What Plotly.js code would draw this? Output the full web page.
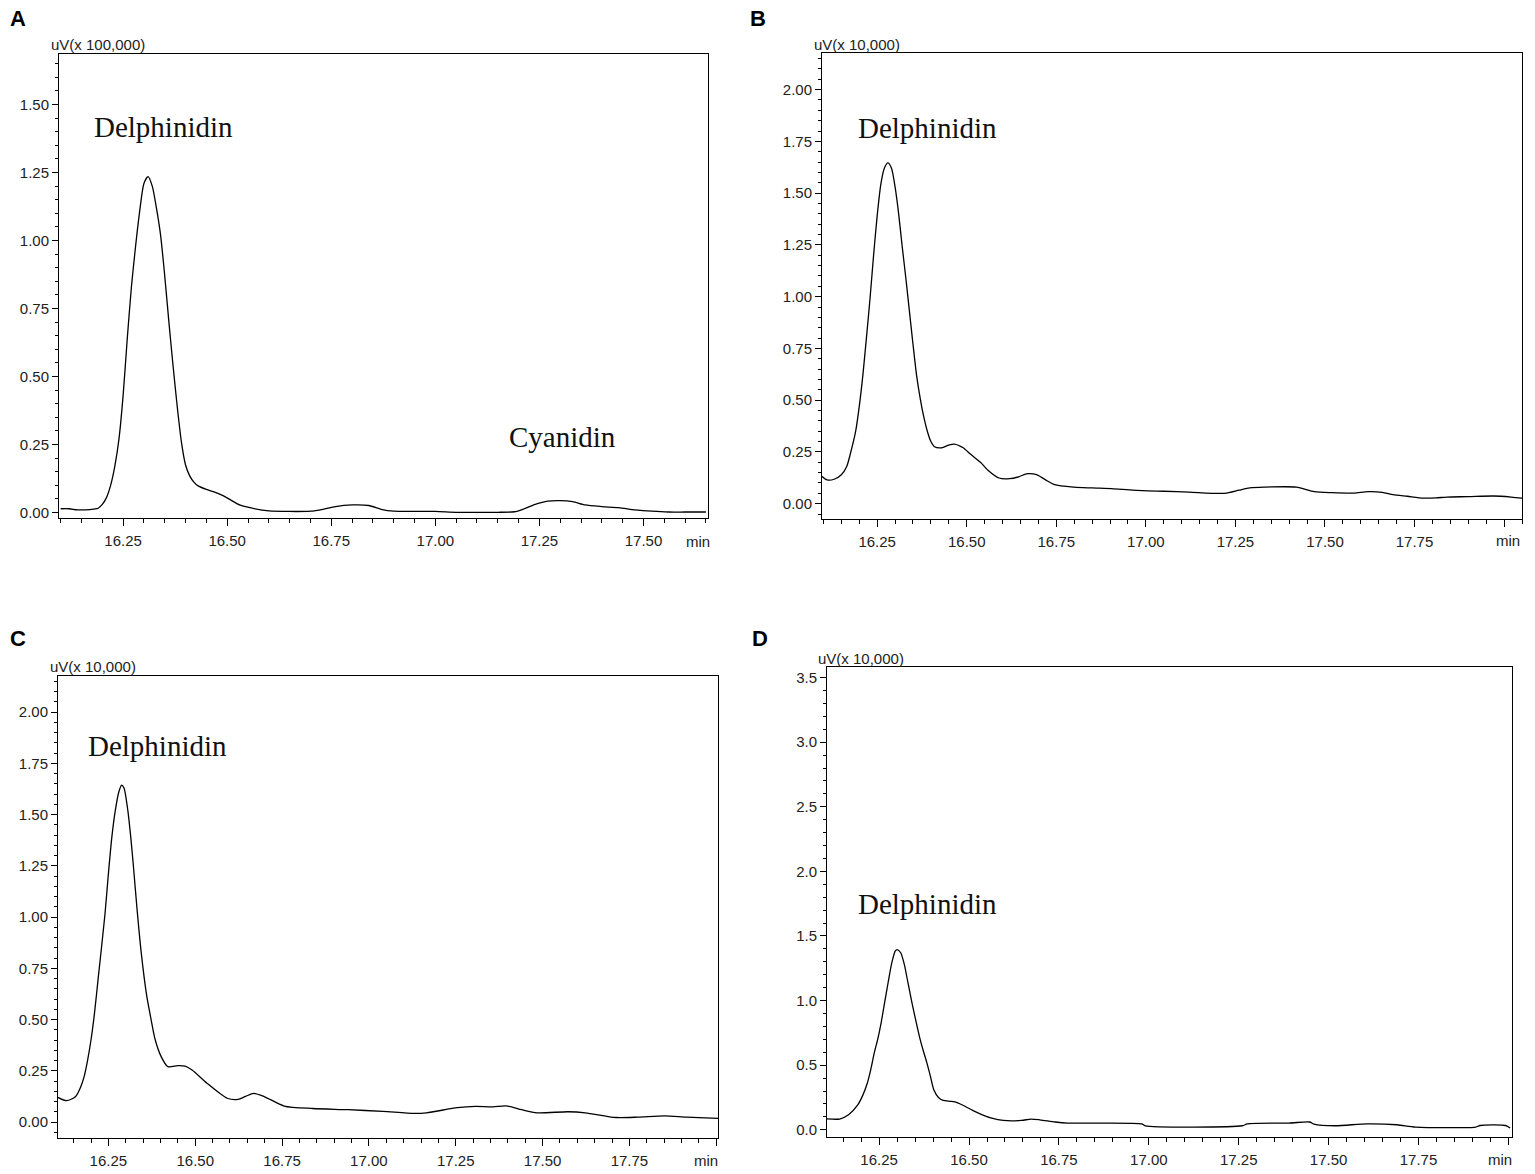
<!DOCTYPE html>
<html>
<head>
<meta charset="utf-8">
<script src="https://cdn.plot.ly/plotly-3.0.1.min.js"></script>
<style>
  html, body { margin: 0; padding: 0; background: #fff; }
  #chart { width: 1535px; height: 1174px; }
</style>
</head>
<body>
<div id="chart"></div>
<script>
// ─── chromatogram traces (time in min, signal in axis units) ───
const tA = [16.10, 16.12, 16.14, 16.16, 16.18, 16.19, 16.20, 16.21, 16.22, 16.23, 16.24, 16.25, 16.26, 16.27, 16.28, 16.29, 16.30, 16.31, 16.32, 16.33, 16.34, 16.35, 16.36, 16.37, 16.38, 16.39, 16.40, 16.41, 16.42, 16.43, 16.45, 16.47, 16.49, 16.51, 16.53, 16.56, 16.60, 16.65, 16.70, 16.73, 16.76, 16.80, 16.84, 16.87, 16.90, 16.95, 17.00, 17.05, 17.10, 17.15, 17.19, 17.21, 17.24, 17.27, 17.30, 17.33, 17.36, 17.40, 17.44, 17.48, 17.52, 17.56, 17.60, 17.65];
const vA = [0.014, 0.014, 0.010, 0.010, 0.013, 0.016, 0.030, 0.055, 0.10, 0.17, 0.27, 0.43, 0.64, 0.83, 0.98, 1.11, 1.21, 1.235, 1.20, 1.12, 1.02, 0.87, 0.70, 0.54, 0.39, 0.26, 0.175, 0.135, 0.112, 0.098, 0.085, 0.075, 0.062, 0.045, 0.028, 0.016, 0.006, 0.004, 0.005, 0.012, 0.022, 0.028, 0.026, 0.012, 0.005, 0.004, 0.004, 0.001, 0.001, 0.001, 0.003, 0.012, 0.030, 0.042, 0.044, 0.040, 0.028, 0.022, 0.018, 0.010, 0.005, 0.002, 0.002, 0.002];

const tB = [16.095, 16.11, 16.13, 16.15, 16.165, 16.175, 16.19, 16.20, 16.21, 16.22, 16.23, 16.24, 16.25, 16.26, 16.27, 16.28, 16.29, 16.30, 16.31, 16.32, 16.33, 16.34, 16.35, 16.36, 16.37, 16.38, 16.39, 16.40, 16.41, 16.43, 16.45, 16.465, 16.49, 16.51, 16.54, 16.56, 16.59, 16.62, 16.645, 16.67, 16.695, 16.72, 16.745, 16.80, 16.85, 16.91, 16.99, 17.05, 17.12, 17.22, 17.26, 17.29, 17.33, 17.42, 17.47, 17.52, 17.58, 17.62, 17.66, 17.69, 17.73, 17.775, 17.81, 17.84, 17.90, 17.97, 18.02, 18.05];
const vB = [0.132, 0.115, 0.118, 0.14, 0.18, 0.24, 0.35, 0.47, 0.62, 0.80, 0.99, 1.20, 1.39, 1.54, 1.62, 1.646, 1.62, 1.53, 1.40, 1.24, 1.09, 0.93, 0.77, 0.62, 0.51, 0.42, 0.35, 0.30, 0.275, 0.27, 0.283, 0.288, 0.27, 0.24, 0.197, 0.16, 0.124, 0.121, 0.13, 0.145, 0.14, 0.115, 0.092, 0.08, 0.076, 0.072, 0.063, 0.06, 0.056, 0.05, 0.065, 0.076, 0.08, 0.08, 0.058, 0.053, 0.051, 0.058, 0.055, 0.044, 0.036, 0.027, 0.028, 0.032, 0.034, 0.037, 0.032, 0.027];

const tC = [16.105, 16.13, 16.155, 16.17, 16.18, 16.19, 16.20, 16.21, 16.22, 16.24, 16.25, 16.26, 16.27, 16.28, 16.288, 16.295, 16.306, 16.315, 16.322, 16.333, 16.345, 16.36, 16.373, 16.385, 16.402, 16.421, 16.45, 16.471, 16.491, 16.534, 16.592, 16.623, 16.645, 16.668, 16.70, 16.756, 16.838, 16.94, 17.04, 17.13, 17.166, 17.255, 17.307, 17.357, 17.395, 17.44, 17.484, 17.573, 17.623, 17.711, 17.775, 17.851, 17.914, 18.005];
const vC = [0.12, 0.104, 0.123, 0.17, 0.22, 0.30, 0.40, 0.53, 0.69, 1.01, 1.21, 1.39, 1.52, 1.61, 1.644, 1.63, 1.52, 1.38, 1.25, 1.03, 0.82, 0.62, 0.50, 0.40, 0.319, 0.27, 0.275, 0.273, 0.254, 0.189, 0.116, 0.11, 0.125, 0.14, 0.123, 0.078, 0.066, 0.06, 0.052, 0.042, 0.045, 0.07, 0.076, 0.074, 0.079, 0.06, 0.045, 0.05, 0.045, 0.022, 0.024, 0.03, 0.024, 0.018];

const tD = [16.105, 16.14, 16.165, 16.19, 16.205, 16.217, 16.227, 16.236, 16.246, 16.255, 16.265, 16.275, 16.285, 16.295, 16.30, 16.31, 16.32, 16.33, 16.34, 16.35, 16.364, 16.374, 16.383, 16.393, 16.402, 16.415, 16.428, 16.45, 16.467, 16.49, 16.51, 16.537, 16.563, 16.595, 16.646, 16.672, 16.697, 16.74, 16.774, 16.98, 16.99, 17.26, 17.274, 17.39, 17.447, 17.459, 17.518, 17.607, 17.69, 17.742, 17.909, 17.921, 17.992, 18.005];
const vD = [0.085, 0.083, 0.116, 0.19, 0.27, 0.36, 0.47, 0.59, 0.70, 0.82, 0.98, 1.14, 1.29, 1.385, 1.395, 1.37, 1.28, 1.14, 1.00, 0.87, 0.70, 0.60, 0.516, 0.41, 0.31, 0.25, 0.227, 0.22, 0.211, 0.18, 0.15, 0.116, 0.09, 0.072, 0.072, 0.083, 0.077, 0.06, 0.052, 0.046, 0.031, 0.031, 0.046, 0.052, 0.06, 0.044, 0.031, 0.046, 0.039, 0.021, 0.021, 0.033, 0.033, 0.013];

// tick values / labels (the last tick of B-D carries the "min" unit instead of a number)
const xTicksA = [16.25, 16.50, 16.75, 17.00, 17.25, 17.50];
const xLabelsA = ['16.25', '16.50', '16.75', '17.00', '17.25', '17.50'];
const xTicksBCD = [16.25, 16.50, 16.75, 17.00, 17.25, 17.50, 17.75, 18.00];
const xLabelsBCD = ['16.25', '16.50', '16.75', '17.00', '17.25', '17.50', '17.75', ''];
const yTicksABC = [0, 0.25, 0.50, 0.75, 1.00, 1.25, 1.50, 1.75, 2.00];
const yTicksD = [0, 0.5, 1.0, 1.5, 2.0, 2.5, 3.0, 3.5];

const panelLetters = ['A', 'B', 'C', 'D'];
const unitLabels = ['uV(x 100,000)', 'uV(x 10,000)', 'uV(x 10,000)', 'uV(x 10,000)'];
const timeUnit = 'min';

// ─── layout helpers ───
const W = 1535, H = 1174;
const px = x => x / W;
const py = y => 1 - y / H;

const tickFont = { family: 'Liberation Sans, Arial, sans-serif', size: 15, color: '#222' };

function xAxis(dom, range, vals, text, anchor) {
  return {
    domain: [px(dom[0]), px(dom[1])], range, anchor,
    showline: true, linecolor: '#000', linewidth: 1, mirror: true,
    showgrid: false, zeroline: false,
    tickmode: 'array', tickvals: vals, ticktext: text,
    ticks: 'outside', ticklen: 7, tickcolor: '#000', tickwidth: 1,
    ticklabelstandoff: 2,
    minor: { dtick: 0.05, tick0: 16.1, ticks: 'outside', ticklen: 4, tickcolor: '#000', showgrid: false },
    tickfont: tickFont, fixedrange: true
  };
}

function yAxis(dom, range, vals, fmt, minorStep, anchor) {
  return {
    domain: [py(dom[1]), py(dom[0])], range, anchor,
    showline: true, linecolor: '#000', linewidth: 1, mirror: true,
    showgrid: false, zeroline: false,
    tickmode: 'array', tickvals: vals, tickformat: fmt,
    ticks: 'outside', ticklen: 6, tickcolor: '#000', tickwidth: 1,
    minor: { dtick: minorStep, tick0: 0, ticks: 'outside', ticklen: 3, tickcolor: '#000', showgrid: false },
    tickfont: tickFont, fixedrange: true
  };
}

function trace(x, y, xa, ya) {
  return { type: 'scatter', mode: 'lines', x, y, xaxis: xa, yaxis: ya,
    line: { color: '#000', width: 1.3, shape: 'spline', smoothing: 0.7 },
    hoverinfo: 'skip', showlegend: false };
}

const data = [
  trace(tA, vA, 'x', 'y'),
  trace(tB, vB, 'x2', 'y2'),
  trace(tC, vC, 'x3', 'y3'),
  trace(tD, vD, 'x4', 'y4')
];

function txt(x, y, text, font, opts = {}) {
  return Object.assign({
    xref: 'paper', yref: 'paper', x: px(x), y: py(y), text, showarrow: false,
    xanchor: 'left', yanchor: 'middle', font
  }, opts);
}
const bold = { family: 'Liberation Sans, Arial, sans-serif', size: 22, color: '#000' };
const serif = { family: 'Liberation Serif, Times New Roman, serif', size: 29, color: '#111' };
const centred = { xanchor: 'center' };

const annotations = [
  txt(8, 18, '<b>' + panelLetters[0] + '</b>', bold),
  txt(748, 18, '<b>' + panelLetters[1] + '</b>', bold),
  txt(8, 638, '<b>' + panelLetters[2] + '</b>', bold),
  txt(750, 638, '<b>' + panelLetters[3] + '</b>', bold),
  txt(49, 45, unitLabels[0], tickFont),
  txt(812, 45, unitLabels[1], tickFont),
  txt(48, 666, unitLabels[2], tickFont),
  txt(816, 658, unitLabels[3], tickFont),
  txt(92, 127, 'Delphinidin', serif),
  txt(507, 437, 'Cyanidin', serif),
  txt(856, 128, 'Delphinidin', serif),
  txt(86, 746, 'Delphinidin', serif),
  txt(856, 904, 'Delphinidin', serif),
  txt(698, 541, timeUnit, tickFont, centred),
  txt(1508, 540, timeUnit, tickFont, centred),
  txt(706, 1160, timeUnit, tickFont, centred),
  txt(1500, 1159, timeUnit, tickFont, centred)
];

const layout = {
  width: W, height: H,
  margin: { l: 0, r: 0, t: 0, b: 0 },
  paper_bgcolor: '#fff', plot_bgcolor: '#fff',
  showlegend: false,
  xaxis: xAxis([59, 708], [16.096, 17.655], xTicksA, xLabelsA, 'y'),
  yaxis: yAxis([54, 518], [-0.02, 1.686], yTicksABC.slice(0, 7), '.2f', 0.05, 'x'),
  xaxis2: xAxis([822, 1522], [16.096, 18.05], xTicksBCD, xLabelsBCD, 'y2'),
  yaxis2: yAxis([53, 519], [-0.074, 2.177], yTicksABC, '.2f', 0.05, 'x2'),
  xaxis3: xAxis([58, 718], [16.105, 18.005], xTicksBCD, xLabelsBCD, 'y3'),
  yaxis3: yAxis([676, 1138], [-0.078, 2.176], yTicksABC, '.2f', 0.05, 'x3'),
  xaxis4: xAxis([827, 1512], [16.105, 18.01], xTicksBCD, xLabelsBCD, 'y4'),
  yaxis4: yAxis([667, 1137], [-0.056, 3.582], yTicksD, '.1f', 0.1, 'x4'),
  annotations
};

Plotly.newPlot('chart', data, layout, { displayModeBar: false, staticPlot: true });
</script>
</body>
</html>
